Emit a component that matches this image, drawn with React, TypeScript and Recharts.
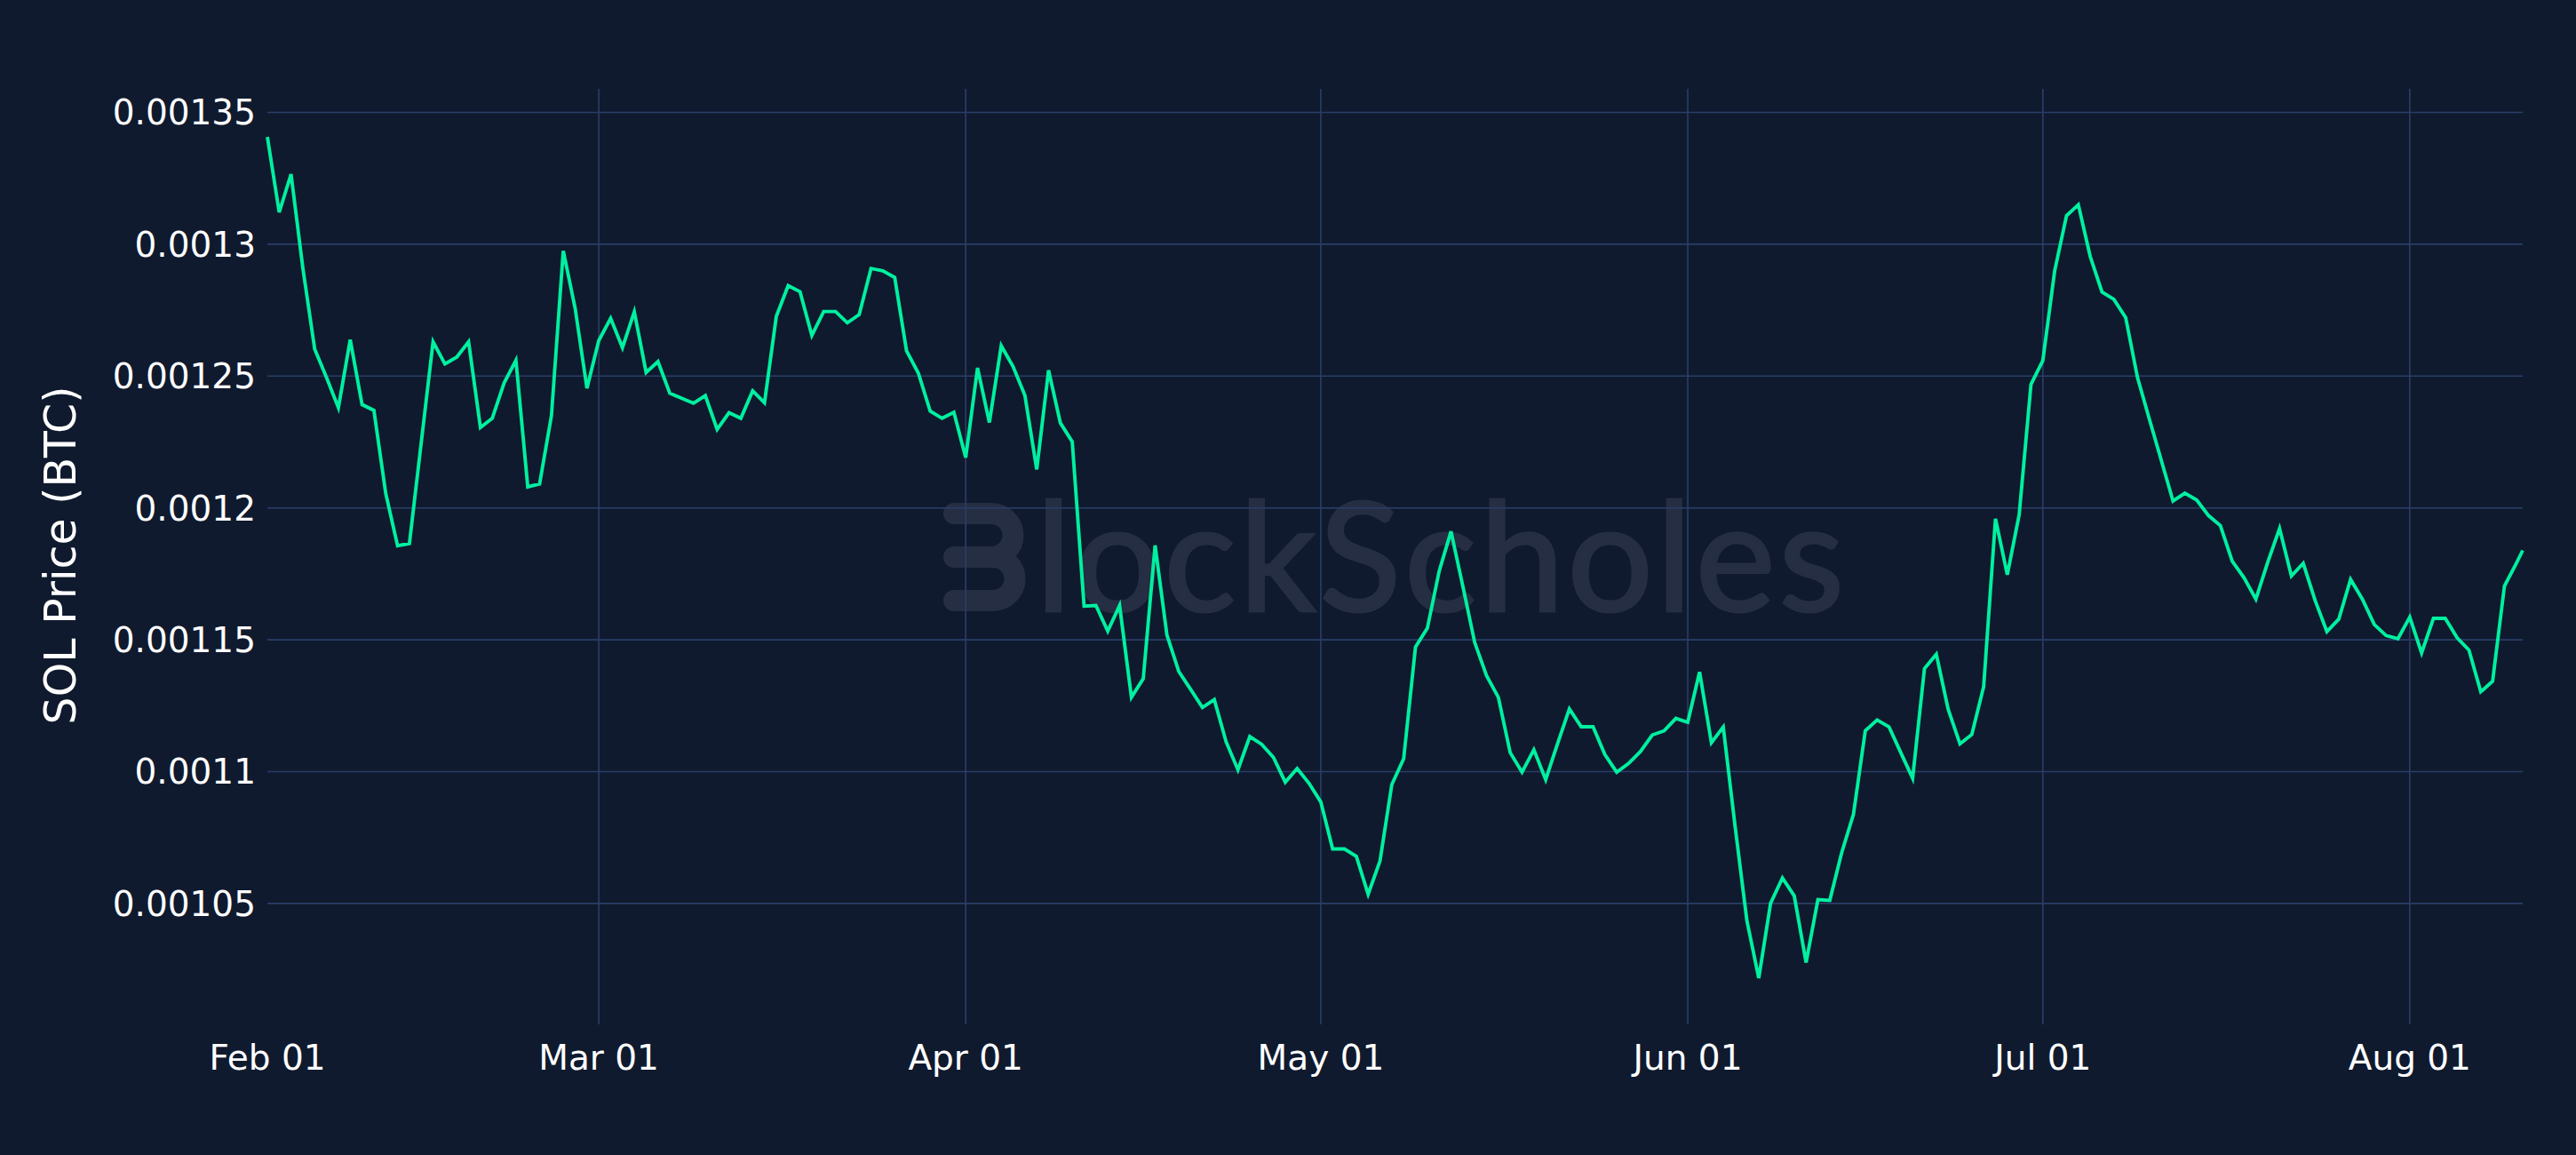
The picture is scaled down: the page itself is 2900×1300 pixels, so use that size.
import { LineChart, Line, XAxis, YAxis, CartesianGrid } from 'recharts'

const DAY = 86400000
const START = Date.UTC(2023, 1, 1)
// the last print is intraday, not a daily close
const LAST_STAMP = Date.UTC(2023, 7, 10, 13)

// SOL priced in BTC, daily from Feb 01 (units of 1e-5 BTC)
const solBtc = [
  134.07, 131.21, 132.66, 129.09, 126.02, 124.94, 123.8, 126.38, 123.92, 123.7,
  120.55, 118.57, 118.65, 122.48, 126.3, 125.46, 125.72, 126.3, 123.05, 123.4,
  124.74, 125.6, 120.8, 120.91, 123.5, 129.75, 127.58, 124.54, 126.35, 127.19,
  126.08, 127.44, 125.14, 125.55, 124.35, 124.16, 123.97, 124.26, 122.98, 123.61,
  123.4, 124.44, 123.99, 127.27, 128.43, 128.2, 126.54, 127.45, 127.45, 127.02,
  127.33, 129.08, 128.99, 128.74, 125.96, 125.11, 123.67, 123.4, 123.63, 121.91,
  125.31, 123.24, 126.15, 125.36, 124.27, 121.46, 125.22, 123.22, 122.51, 116.28,
  116.3, 115.33, 116.3, 112.82, 113.53, 118.58, 115.18, 113.8, 113.12, 112.43,
  112.73, 111.13, 110.07, 111.33, 111.04, 110.54, 109.6, 110.12, 109.56, 108.85,
  107.07, 107.07, 106.79, 105.35, 106.61, 109.51, 110.49, 114.73, 115.44, 117.6,
  119.11, 117.03, 114.9, 113.64, 112.82, 110.72, 109.98, 110.83, 109.7, 111.06,
  112.38, 111.7, 111.7, 110.65, 109.98, 110.31, 110.76, 111.39, 111.55, 112.02,
  111.87, 113.78, 111.1, 111.69, 107.93, 104.34, 102.17, 105.01, 105.97, 105.29,
  102.76, 105.15, 105.12, 106.92, 108.38, 111.55, 111.96, 111.7, 110.72, 109.75,
  113.91, 114.45, 112.37, 111.05, 111.41, 113.22, 119.59, 117.47, 119.74, 124.69,
  125.59, 128.99, 131.08, 131.5, 129.54, 128.19, 127.91, 127.22, 124.94, 123.37,
  121.82, 120.26, 120.56, 120.3, 119.71, 119.33, 117.98, 117.35, 116.54, 117.94,
  119.22, 117.42, 117.9, 116.5, 115.31, 115.78, 117.29, 116.54, 115.58, 115.16,
  115.04, 115.86, 114.5, 115.81, 115.81, 115.08, 114.61, 113.03, 113.43, 117.04,
  117.9, 118.39,
]

const monthTicks = ['2023-02-01', '2023-03-01', '2023-04-01', '2023-05-01', '2023-06-01', '2023-07-01', '2023-08-01']
const monthLabels = ['Feb 01', 'Mar 01', 'Apr 01', 'May 01', 'Jun 01', 'Jul 01', 'Aug 01']

const yTicks = [0.00105, 0.0011, 0.00115, 0.0012, 0.00125, 0.0013, 0.00135]
const yLabels = ['0.00105', '0.0011', '0.00115', '0.0012', '0.00125', '0.0013', '0.00135']

const data = solBtc.map((v, i) => ({
  t: i === solBtc.length - 1 ? LAST_STAMP : START + i * DAY,
  price: v / 100000,
}))

const xTicks = monthTicks.map((d) => Date.parse(d))

const BG = '#0f1a2e'
const GRID = '#2b3e68'
const LINE = '#00f0a0'
const WM = '#252e42'
const FONT = 'DejaVu Sans'

function Watermark() {
  return (
    <svg width={2900} height={1300} style={{ position: 'absolute', left: 0, top: 0 }}>
      <g fill="none" stroke={WM} strokeWidth={24} strokeLinecap="round">
        <path d="M 1074 578 H 1116 A 24.5 24.5 0 0 1 1116 627 H 1082" />
        <path d="M 1074 627 H 1118 A 24.5 24.5 0 0 1 1118 676 H 1074" />
      </g>
      <rect x={1060} y={600} width={40} height={6} fill={BG} />
      <rect x={1060} y={648} width={40} height={6} fill={BG} />
      <text
        x={1166}
        y={688}
        fontFamily="Lato"
        fontSize={170}
        fill={WM}
        stroke={WM}
        strokeWidth={3}
        textLength={910}
      >
        lockScholes
      </text>
    </svg>
  )
}

export default function App() {
  return (
    <div style={{ position: 'absolute', left: 0, top: 0, width: 2900, height: 1300, background: BG, overflow: 'hidden' }}>
      <Watermark />
      <div style={{ position: 'absolute', left: 0, top: 0 }}>
        <LineChart width={2900} height={1300} data={data} margin={{ top: 100, right: 60, left: 0, bottom: 0 }}>
          <CartesianGrid stroke={GRID} strokeWidth={1.6} verticalValues={xTicks.slice(1)} horizontalValues={yTicks} />
          <XAxis
            dataKey="t"
            type="number"
            scale="time"
            domain={['dataMin', 'dataMax']}
            ticks={xTicks}
            tickFormatter={(v) => monthLabels[xTicks.indexOf(v)] ?? ''}
            height={147}
            axisLine={false}
            tickLine={false}
            tickSize={0}
            tickMargin={23}
            tick={{ fill: '#ffffff', fontSize: 39, fontFamily: FONT }}
          />
          <YAxis
            type="number"
            domain={[0.00100415, 0.00135893]}
            allowDataOverflow
            ticks={yTicks}
            tickFormatter={(v) => yLabels[yTicks.indexOf(v)] ?? String(v)}
            width={301}
            axisLine={false}
            tickLine={false}
            tickSize={0}
            tickMargin={13}
            tick={{ fill: '#ffffff', fontSize: 39, fontFamily: FONT }}
          />
          <Line
            type="linear"
            dataKey="price"
            stroke={LINE}
            strokeWidth={3.9}
            dot={false}
            activeDot={false}
            isAnimationActive={false}
          />
        </LineChart>
      </div>
      <svg width={2900} height={1300} style={{ position: 'absolute', left: 0, top: 0, pointerEvents: 'none' }}>
        <text
          transform="translate(85,625) rotate(-90)"
          textAnchor="middle"
          fontFamily={FONT}
          fontSize={49}
          fill="#ffffff"
        >
          SOL Price (BTC)
        </text>
      </svg>
    </div>
  )
}
